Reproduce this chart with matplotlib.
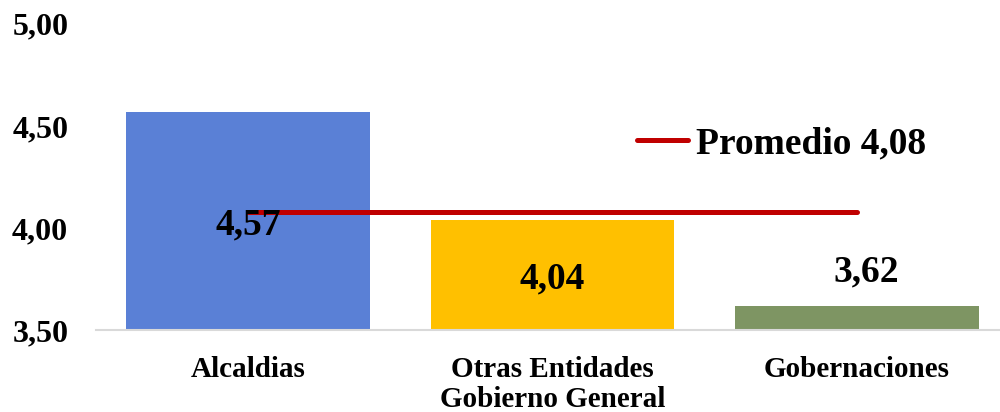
import numpy as np
import matplotlib
matplotlib.use('Agg')
import matplotlib.pyplot as plt

# DATA
categories = ['Alcaldias', 'Otras Entidades\nGobierno General', 'Gobernaciones']
values = [4.57, 4.04, 3.62]
promedio = 4.08
yticks = [3.5, 4.0, 4.5, 5.0]
colors = ['#5A80D6', '#FFC000', '#7E9563']

plt.rcParams['font.family'] = ['Liberation Serif', 'DejaVu Serif']
plt.rcParams['font.weight'] = 'bold'

fig = plt.figure(figsize=(10, 4.12), dpi=100)
ax = fig.add_axes([0.096, 0.199, 0.913, 0.743])

x = np.arange(len(categories))
ax.bar(x, values, width=0.8, color=colors, zorder=2)

# average line across categories
ax.plot([x[0], x[-1]], [promedio, promedio], color='#C00000', lw=3.6,
        solid_capstyle='round', zorder=3, label=f'Promedio {promedio:.2f}'.replace('.', ','))

ymin = yticks[0]
for xi, v in zip(x, values):
    label = f'{v:.2f}'.replace('.', ',')
    if (v - ymin) > 0.3:
        ax.text(xi, (v + ymin) / 2, label, ha='center', va='center_baseline',
                fontsize=27, fontweight='bold', zorder=4)
    else:
        ax.text(xi + 0.03, v + 0.08, label, ha='center', va='bottom',
                fontsize=27, fontweight='bold', zorder=4)

ax.set_xlim(-0.5, 2.5)
ax.set_ylim(yticks[0], yticks[-1])
ax.set_yticks(yticks)
ax.set_yticklabels([f'{t:.2f}'.replace('.', ',') for t in yticks], fontsize=23, fontweight='bold')
ax.set_xticks(x)
ax.set_xticklabels(categories, fontsize=21, fontweight='bold', linespacing=1.12)
ax.tick_params(axis='x', length=0, pad=19)
ax.tick_params(axis='y', length=0, pad=20)

for s in ['top', 'right', 'left']:
    ax.spines[s].set_visible(False)
ax.spines['bottom'].set_color('#D9D9D9')
ax.spines['bottom'].set_linewidth(1.5)

leg = fig.legend(loc='center left', bbox_to_anchor=(0.637, 1 - 144 / 412),
                 frameon=False, handlelength=1.36, handletextpad=0.2,
                 borderpad=0, borderaxespad=0, prop={'weight': 'bold', 'size': 27})

fig.savefig('out.png', dpi=100)
